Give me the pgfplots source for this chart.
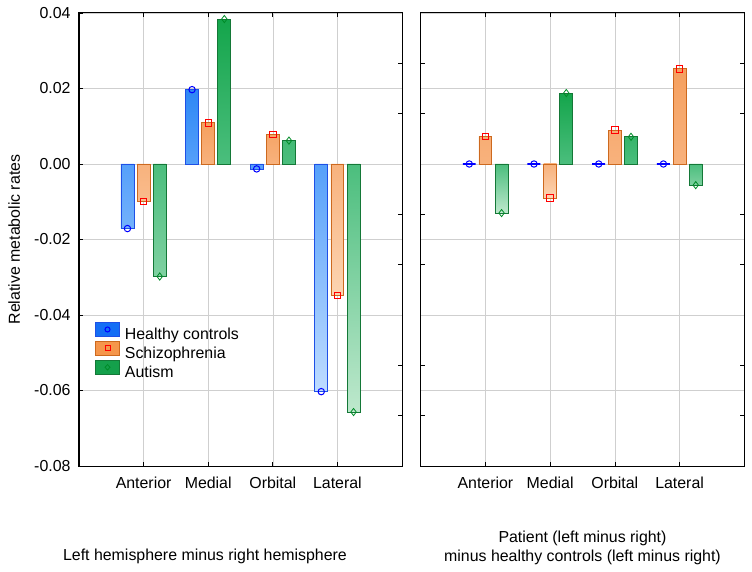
\documentclass[border=0pt]{standalone}
\usepackage{pgfplots}
\pgfplotsset{compat=1.18}
\usepackage{fontspec}
\setmainfont{Liberation Sans}

\definecolor{hcdark}{RGB}{45,135,245}
\definecolor{hcmid}{RGB}{85,160,250}
\definecolor{hclight}{RGB}{190,220,255}
\definecolor{hcedge}{RGB}{30,80,230}
\definecolor{hcleg}{RGB}{20,110,245}
\definecolor{szdark}{RGB}{245,160,95}
\definecolor{szmid}{RGB}{248,178,125}
\definecolor{szlight}{RGB}{252,212,178}
\definecolor{szedge}{RGB}{205,105,30}
\definecolor{szleg}{RGB}{245,150,75}
\definecolor{audark}{RGB}{20,165,75}
\definecolor{aumid}{RGB}{75,190,125}
\definecolor{aulight}{RGB}{190,232,205}
\definecolor{auedge}{RGB}{20,120,55}
\definecolor{auleg}{RGB}{20,160,75}
\definecolor{aumark}{RGB}{0,140,40}

\pgfplotsset{
  panel/.style={
    width=323pt, height=453pt, scale only axis,
    xmin=0, xmax=5, ymin=-0.08, ymax=0.04,
    xtick={1,2,3,4}, xticklabels={Anterior,Medial,Orbital,Lateral},
    ytick={-0.08,-0.06,-0.04,-0.02,0,0.02,0.04},
    grid=major, grid style={gray!38, line width=0.6pt},
    axis line style={line width=1pt},
    major tick length=4pt, tick style={black, line width=0.7pt},
    tick align=inside,
    xticklabel style={yshift=-7pt},
    yticklabel style={xshift=-5pt},
    font=\fontsize{15.9}{19}\selectfont,
  },
  % odd ticks at thirds of 0.04, without labels
  ticksonly/.style={
    width=323pt, height=453pt, scale only axis,
    xmin=0, xmax=5, ymin=-0.08, ymax=0.04, hide x axis,
    xtick=\empty,
    ytick={-0.066667,-0.053333,-0.026667,-0.013333,0.013333,0.026667},
    yticklabels={}, major tick length=4pt, tick align=inside,
    tick style={black, line width=0.7pt}, axis line style={line width=1pt},
  },
  hc/.style={ybar, bar width=0.2, bar shift=-0.25, draw=hcedge, line width=0.8pt,
    mark=o, mark size=3.2pt, mark options={draw=blue, line width=1pt, xshift=-16.15pt}},
  sz/.style={ybar, bar width=0.2, bar shift=0, draw=szedge, line width=0.8pt,
    mark=square, mark size=3.2pt, mark options={draw=red, line width=0.9pt}},
  au/.style={ybar, bar width=0.2, bar shift=0.25, draw=auedge, line width=0.8pt,
    mark=diamond, mark size=3.6pt, mark options={draw=aumark, line width=0.8pt, xshift=16.15pt}},
  posbar/.style={shade, top color=#1dark, bottom color=#1mid},
  negbar/.style={shade, top color=#1mid, bottom color=#1light},
}

\begin{document}
\begin{tikzpicture}
% left panel
\begin{axis}[panel, ytick pos=left,
  yticklabels={-0.08,-0.06,-0.04,-0.02,0.00,0.02,0.04},
  ylabel={Relative metabolic rates},
  ylabel style={at={(axis description cs:-0.201,0.5)}, anchor=center},
  xlabel={Left hemisphere minus right hemisphere},
  xlabel style={at={(axis description cs:0.39,-0.2)}, anchor=center},
  legend style={at={(axis description cs:0.04,0.322)}, anchor=north west,
    draw=none, fill=none, cells={anchor=west}, row sep=-1.5pt, column sep=3pt},
]
\addlegendimage{legend image code/.code={
  \draw[fill=hcleg, draw=hcedge, line width=0.8pt] (0pt,-2pt) rectangle (24pt,11.5pt);
  \draw[blue, line width=1pt] (12pt,4.75pt) circle (2.5pt);}}
\addlegendentry{Healthy controls}
\addlegendimage{legend image code/.code={
  \draw[fill=szleg, draw=szedge, line width=0.8pt] (0pt,-2pt) rectangle (24pt,11.5pt);
  \draw[red, line width=0.9pt] (9.5pt,2.25pt) rectangle (14.5pt,7.25pt);}}
\addlegendentry{Schizophrenia}
\addlegendimage{legend image code/.code={
  \draw[fill=auleg, draw=auedge, line width=0.8pt] (0pt,-2pt) rectangle (24pt,11.5pt);
  \draw[aumark, line width=0.8pt] (12pt,2pt) -- (14.5pt,4.75pt) -- (12pt,7.5pt) -- (9.5pt,4.75pt) -- cycle;}}
\addlegendentry{Autism}

\addplot[hc, posbar=hc, forget plot] coordinates {(2,0.0197)};
\addplot[hc, negbar=hc, forget plot] coordinates {(1,-0.0171) (3,-0.0013) (4,-0.0603)};
\addplot[sz, posbar=sz, forget plot] coordinates {(2,0.0109) (3,0.0078)};
\addplot[sz, negbar=sz, forget plot] coordinates {(1,-0.0100) (4,-0.0349)};
\addplot[au, posbar=au, forget plot] coordinates {(2,0.0384) (3,0.0062)};
\addplot[au, negbar=au, forget plot] coordinates {(1,-0.0298) (4,-0.0657)};
\end{axis}
\begin{axis}[ticksonly, ytick pos=right]
\end{axis}

% right panel
\begin{axis}[panel, at={(341.7pt,0)}, width=323.6pt,
  yticklabels={}, ytick style={draw=none},
  xlabel={Patient (left minus right)\\minus healthy controls (left minus right)},
  xlabel style={align=center, at={(axis description cs:0.5,-0.181)}, anchor=center},
]
\addplot[hc, posbar=hc, forget plot, line width=1.4pt, draw=blue] coordinates {(1,0) (2,0) (3,0) (4,0)};
\addplot[sz, posbar=sz, forget plot] coordinates {(1,0.0073) (3,0.0090) (4,0.0252)};
\addplot[sz, negbar=sz, forget plot] coordinates {(2,-0.0090)};
\addplot[au, posbar=au, forget plot] coordinates {(2,0.0188) (3,0.0072)};
\addplot[au, negbar=au, forget plot] coordinates {(1,-0.0130) (4,-0.0056)};
\end{axis}
\begin{axis}[ticksonly, at={(341.7pt,0)}, width=323.6pt, ytick pos=both]
\end{axis}

\pgfresetboundingbox
\path (-79pt,-105pt) rectangle (673pt,466pt);
\end{tikzpicture}
\end{document}
